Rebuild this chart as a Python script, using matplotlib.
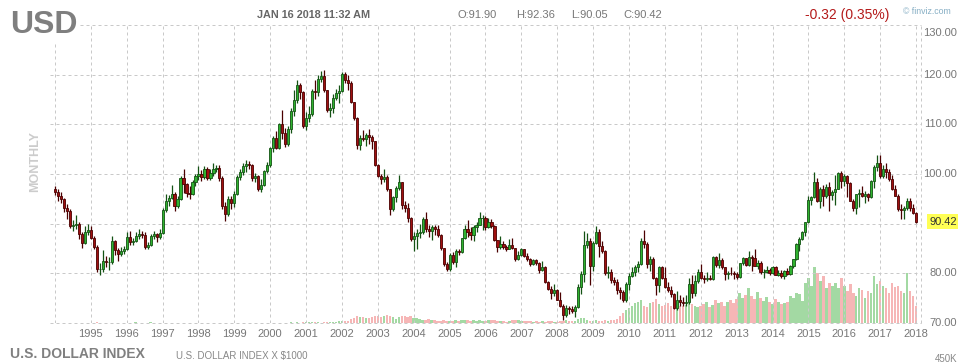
import numpy as np
import matplotlib as mpl
mpl.use("Agg")
import matplotlib.pyplot as plt
import matplotlib.transforms as mtrans

plt.rcParams["font.family"] = ["Liberation Sans", "DejaVu Sans"]

# ---- monthly OHLC, Jan 1994 .. Jan 2018 (one row per year) ----
opens = [
    97.0, 96.3, 95.6, 94.9, 93.1, 92.6, 89.6, 89.8, 89.9, 88.0, 86.2, 88.3,
    88.7, 87.2, 85.3, 80.8, 80.9, 82.5, 82.2, 82.2, 86.5, 84.6, 83.8, 84.4,
    84.8, 87.3, 86.4, 86.6, 87.6, 88.0, 87.8, 85.4, 85.8, 87.6, 87.9, 87.4,
    88.2, 92.8, 94.5, 95.2, 96.0, 93.5, 95.0, 99.2, 97.9, 96.2, 96.0, 98.3,
    99.6, 100.0, 99.4, 101.0, 99.2, 100.2, 101.1, 101.3, 99.2, 93.6, 92.0, 95.0,
    94.2, 96.0, 99.4, 100.4, 101.6, 102.0, 101.9, 99.1, 99.5, 97.0, 97.8, 100.6,
    101.9, 105.2, 107.3, 105.3, 110.0, 108.3, 106.1, 109.1, 112.7, 114.8, 117.9, 116.5,
    109.6, 111.2, 112.0, 116.7, 116.5, 119.2, 119.7, 116.9, 112.8, 113.2, 115.3, 116.4,
    116.8, 120.2, 119.0, 118.4, 114.4, 111.3, 105.9, 107.2, 107.1, 107.8, 107.4, 106.6,
    101.9, 99.5, 98.9, 99.4, 97.0, 93.0, 95.4, 97.1, 98.3, 93.8, 93.2, 91.1,
    86.9, 87.6, 88.2, 88.4, 90.9, 89.0, 88.5, 89.4, 88.9, 87.7, 85.1, 81.8,
    80.9, 83.7, 82.2, 84.5, 84.2, 87.1, 89.0, 88.4, 87.8, 89.3, 89.8, 91.2,
    91.2, 89.4, 90.3, 89.6, 86.8, 85.3, 85.9, 85.3, 85.0, 85.7, 85.2, 82.9,
    83.7, 84.8, 83.4, 82.9, 81.8, 82.6, 82.0, 80.7, 81.2, 78.2, 76.9, 76.0,
    76.7, 74.7, 73.4, 71.7, 73.0, 72.8, 72.5, 73.3, 77.2, 79.8, 85.7, 86.6,
    81.4, 86.1, 88.3, 85.6, 84.5, 80.0, 80.2, 78.6, 78.2, 76.7, 76.3, 74.7,
    77.9, 79.5, 80.3, 81.2, 81.9, 86.6, 86.0, 81.8, 82.9, 79.0, 77.6, 81.2,
    79.0, 77.3, 76.7, 75.9, 73.0, 74.6, 74.3, 74.0, 74.2, 77.9, 76.0, 78.4,
    80.2, 79.1, 78.9, 79.0, 78.9, 83.2, 81.6, 82.6, 81.2, 79.9, 80.1, 80.0,
    79.8, 79.2, 82.0, 83.0, 81.6, 83.3, 83.1, 81.5, 82.1, 80.2, 80.2, 80.7,
    80.0, 81.3, 79.7, 80.1, 79.5, 80.4, 79.8, 81.5, 82.8, 86.0, 87.0, 88.4,
    90.3, 94.8, 95.3, 98.4, 94.6, 96.9, 95.5, 97.3, 95.8, 96.4, 97.0, 100.2,
    98.6, 99.6, 98.2, 94.6, 93.1, 95.9, 96.1, 95.5, 96.0, 95.4, 98.5, 101.5,
    102.2, 99.5, 101.1, 100.4, 99.0, 97.0, 95.6, 92.9, 92.7, 93.1, 94.6, 93.1,
    92.1,
]
highs = [
    97.6, 96.9, 96.3, 95.2, 93.9, 93.0, 90.8, 91.8, 90.4, 88.3, 89.6, 89.9,
    89.6, 87.6, 85.8, 82.0, 84.6, 83.4, 83.3, 87.6, 86.8, 85.2, 85.3, 85.6,
    88.3, 88.5, 87.2, 88.3, 88.9, 88.6, 88.3, 86.4, 88.0, 88.6, 88.2, 88.9,
    93.2, 95.9, 95.8, 97.8, 96.4, 95.5, 99.6, 101.1, 98.2, 97.6, 98.7, 100.0,
    101.6, 100.9, 101.6, 101.4, 101.0, 102.2, 101.8, 101.9, 99.6, 94.4, 95.6, 95.5,
    96.6, 99.8, 101.0, 102.3, 102.8, 102.6, 102.1, 100.3, 99.8, 98.9, 100.9, 102.4,
    105.5, 107.7, 108.6, 110.3, 112.8, 109.2, 109.6, 113.2, 116.9, 118.9, 118.4, 116.8,
    112.5, 113.7, 117.2, 118.9, 119.9, 120.8, 121.0, 117.0, 114.3, 116.1, 117.2, 117.9,
    120.5, 120.5, 119.9, 118.7, 114.5, 111.4, 107.9, 108.8, 108.2, 109.1, 107.9, 106.7,
    102.1, 100.0, 101.1, 99.7, 97.0, 95.6, 97.6, 99.8, 98.4, 94.5, 94.1, 91.4,
    88.3, 89.0, 89.9, 91.4, 92.3, 89.8, 89.8, 89.8, 89.7, 88.0, 85.2, 82.3,
    84.1, 84.3, 85.0, 84.9, 87.2, 89.7, 90.8, 89.3, 89.8, 90.3, 92.3, 91.8,
    91.5, 91.1, 90.9, 89.8, 86.8, 87.5, 86.6, 85.7, 86.9, 87.1, 85.2, 84.4,
    85.2, 84.9, 84.0, 83.1, 82.9, 82.9, 82.3, 82.5, 81.4, 78.4, 77.4, 77.9,
    76.9, 76.2, 73.9, 73.7, 73.5, 73.4, 73.7, 77.8, 80.4, 88.5, 88.2, 87.1,
    86.5, 89.6, 89.0, 86.6, 84.6, 81.4, 80.8, 79.3, 78.9, 77.3, 76.6, 78.3,
    80.0, 81.3, 81.6, 82.5, 87.2, 88.7, 86.4, 83.5, 83.2, 79.2, 81.4, 81.4,
    81.2, 78.3, 77.5, 76.0, 76.4, 75.7, 75.2, 75.6, 79.0, 79.6, 79.7, 80.8,
    81.8, 79.6, 80.3, 79.7, 83.5, 83.4, 84.1, 83.0, 81.3, 80.4, 81.2, 80.4,
    80.2, 82.1, 83.2, 83.1, 84.5, 83.6, 84.8, 82.6, 82.4, 80.9, 81.5, 81.0,
    81.5, 81.4, 80.7, 80.6, 80.7, 81.0, 81.6, 82.9, 86.2, 87.3, 88.6, 90.4,
    95.5, 95.6, 100.4, 99.2, 97.3, 97.8, 98.0, 98.3, 96.7, 99.7, 100.5, 100.6,
    99.9, 99.8, 98.4, 95.0, 96.0, 97.0, 97.6, 96.5, 96.1, 98.7, 101.8, 103.8,
    103.8, 101.8, 102.3, 101.0, 99.7, 97.8, 96.0, 93.9, 93.5, 95.2, 95.1, 93.9,
    92.36,
]
lows = [
    95.8, 94.5, 94.1, 92.3, 91.0, 89.2, 88.6, 89.0, 86.9, 85.2, 85.9, 87.8,
    86.9, 84.9, 80.2, 79.7, 80.3, 81.2, 80.7, 81.9, 83.6, 82.4, 83.4, 83.8,
    84.6, 85.8, 85.7, 86.3, 87.0, 87.2, 85.0, 84.8, 85.6, 87.0, 86.3, 87.0,
    88.0, 92.4, 93.6, 95.0, 92.6, 93.1, 94.8, 96.2, 95.4, 95.0, 95.8, 97.6,
    98.8, 98.6, 99.0, 98.8, 98.7, 99.6, 100.5, 98.6, 93.0, 90.6, 91.6, 93.0,
    93.4, 95.8, 98.7, 99.8, 100.4, 101.0, 98.5, 98.4, 96.5, 96.3, 97.5, 100.2,
    101.4, 104.5, 105.0, 105.1, 107.0, 105.4, 105.6, 108.2, 111.6, 114.3, 115.2, 109.3,
    108.8, 110.5, 111.6, 115.2, 115.8, 118.5, 116.5, 112.4, 111.4, 112.3, 114.8, 114.2,
    116.5, 118.4, 117.0, 114.2, 110.9, 105.0, 104.9, 106.6, 105.7, 106.1, 105.0, 101.6,
    99.3, 98.0, 98.3, 96.5, 91.8, 92.5, 94.3, 96.8, 93.0, 92.4, 90.4, 86.6,
    84.4, 84.9, 87.2, 88.0, 88.3, 87.3, 86.8, 87.7, 87.4, 84.7, 81.5, 80.4,
    80.4, 81.9, 81.2, 83.6, 84.1, 87.0, 87.3, 86.7, 86.5, 88.4, 89.7, 88.8,
    88.8, 89.1, 89.1, 86.6, 84.2, 84.9, 84.8, 84.4, 84.9, 84.9, 82.4, 82.7,
    83.5, 83.3, 82.4, 81.5, 81.6, 81.7, 80.1, 80.4, 78.0, 76.6, 74.8, 75.4,
    74.6, 73.3, 70.7, 71.3, 71.9, 72.1, 71.3, 73.0, 75.8, 78.3, 85.2, 77.7,
    80.4, 85.9, 83.2, 84.1, 79.6, 79.0, 78.1, 77.6, 75.8, 74.9, 74.2, 74.3,
    76.6, 79.2, 79.5, 80.2, 81.7, 85.1, 81.1, 80.4, 78.9, 75.7, 76.3, 78.9,
    77.0, 76.3, 75.3, 72.9, 72.7, 73.5, 73.4, 73.4, 73.8, 75.0, 75.5, 78.1,
    78.8, 78.0, 78.4, 78.6, 78.7, 81.2, 81.1, 80.9, 78.6, 78.9, 79.6, 78.9,
    78.9, 79.0, 81.6, 81.4, 81.5, 80.5, 81.4, 80.8, 79.9, 79.1, 80.1, 79.6,
    79.9, 79.6, 79.4, 79.1, 78.9, 79.7, 79.7, 81.1, 82.6, 84.5, 86.8, 87.6,
    90.1, 93.7, 95.1, 94.4, 93.1, 93.5, 95.2, 92.6, 94.7, 93.8, 96.9, 97.2,
    97.6, 95.3, 94.5, 92.6, 91.9, 93.4, 95.3, 94.1, 94.5, 95.2, 97.1, 100.7,
    99.2, 99.2, 99.2, 98.5, 96.8, 95.5, 92.5, 91.0, 91.0, 92.7, 92.5, 91.9,
    90.05,
]
closes = [
    96.3, 95.6, 94.9, 93.1, 92.6, 89.6, 89.8, 89.9, 88.0, 86.2, 88.3, 88.7,
    87.2, 85.3, 80.8, 80.9, 82.5, 82.2, 82.2, 86.5, 84.6, 83.8, 84.4, 84.8,
    87.3, 86.4, 86.6, 87.6, 88.0, 87.8, 85.4, 85.8, 87.6, 87.9, 87.4, 88.2,
    92.8, 94.5, 95.2, 96.0, 93.5, 95.0, 99.2, 97.9, 96.2, 96.0, 98.3, 99.6,
    100.0, 99.4, 101.0, 99.2, 100.2, 101.1, 101.3, 99.2, 93.6, 92.0, 95.0, 94.2,
    96.0, 99.4, 100.4, 101.6, 102.0, 101.9, 99.1, 99.5, 97.0, 97.8, 100.6, 101.9,
    105.2, 107.3, 105.3, 110.0, 108.3, 106.1, 109.1, 112.7, 114.8, 117.9, 116.5, 109.6,
    111.2, 112.0, 116.7, 116.5, 119.2, 119.7, 116.9, 112.8, 113.2, 115.3, 116.4, 116.8,
    120.2, 119.0, 118.4, 114.4, 111.3, 105.9, 107.2, 107.1, 107.8, 107.4, 106.6, 101.9,
    99.5, 98.9, 99.4, 97.0, 93.0, 95.4, 97.1, 98.3, 93.8, 93.2, 91.1, 86.9,
    87.6, 88.2, 88.4, 90.9, 89.0, 88.5, 89.4, 88.9, 87.7, 85.1, 81.8, 80.9,
    83.7, 82.2, 84.5, 84.2, 87.1, 89.0, 88.4, 87.8, 89.3, 89.8, 91.2, 91.2,
    89.4, 90.3, 89.6, 86.8, 85.3, 85.9, 85.3, 85.0, 85.7, 85.2, 82.9, 83.7,
    84.8, 83.4, 82.9, 81.8, 82.6, 82.0, 80.7, 81.2, 78.2, 76.9, 76.0, 76.7,
    74.7, 73.4, 71.7, 73.0, 72.8, 72.5, 73.3, 77.2, 79.8, 85.7, 86.6, 81.4,
    86.1, 88.3, 85.6, 84.5, 80.0, 80.2, 78.6, 78.2, 76.7, 76.3, 74.7, 77.9,
    79.5, 80.3, 81.2, 81.9, 86.6, 86.0, 81.8, 82.9, 79.0, 77.6, 81.2, 79.0,
    77.3, 76.7, 75.9, 73.0, 74.6, 74.3, 74.0, 74.2, 77.9, 76.0, 78.4, 80.2,
    79.1, 78.9, 79.0, 78.9, 83.2, 81.6, 82.6, 81.2, 79.9, 80.1, 80.0, 79.8,
    79.2, 82.0, 83.0, 81.6, 83.3, 83.1, 81.5, 82.1, 80.2, 80.2, 80.7, 80.0,
    81.3, 79.7, 80.1, 79.5, 80.4, 79.8, 81.5, 82.8, 86.0, 87.0, 88.4, 90.3,
    94.8, 95.3, 98.4, 94.6, 96.9, 95.5, 97.3, 95.8, 96.4, 97.0, 100.2, 98.6,
    99.6, 98.2, 94.6, 93.1, 95.9, 96.1, 95.5, 96.0, 95.4, 98.5, 101.5, 102.2,
    99.5, 101.1, 100.4, 99.0, 97.0, 95.6, 92.9, 92.7, 93.1, 94.6, 93.1, 92.1,
    90.42,
]
# monthly volume, thousands of contracts
volumes = [
    2, 2, 1, 1, 2, 1, 1, 1, 1, 1, 2, 1,
    1, 2, 3, 2, 1, 1, 2, 2, 1, 1, 1, 1,
    2, 1, 1, 4, 2, 1, 1, 2, 3, 1, 1, 1,
    2, 1, 1, 2, 1, 2, 1, 2, 1, 1, 2, 1,
    1, 2, 1, 2, 1, 1, 2, 1, 2, 2, 1, 2,
    1, 2, 2, 1, 1, 2, 1, 1, 2, 1, 1, 2,
    2, 1, 2, 1, 2, 1, 2, 3, 2, 3, 2, 4,
    3, 4, 6, 4, 3, 2, 6, 4, 3, 5, 3, 8,
    10, 8, 10, 16, 20, 28, 26, 24, 20, 22, 25, 30,
    28, 24, 30, 32, 30, 26, 18, 24, 30, 28, 26, 28,
    22, 20, 18, 14, 12, 16, 14, 12, 10, 10, 12, 10,
    8, 10, 12, 10, 12, 14, 12, 10, 12, 10, 12, 10,
    10, 12, 12, 14, 10, 8, 8, 6, 10, 12, 14, 12,
    8, 8, 10, 8, 6, 8, 6, 8, 6, 10, 8, 6,
    6, 8, 10, 12, 10, 8, 8, 16, 20, 22, 14, 10,
    10, 12, 8, 10, 14, 10, 12, 14, 16, 30, 40, 52,
    60, 70, 80, 86, 92, 70, 66, 80, 84, 96, 76, 68,
    72, 80, 70, 62, 60, 70, 68, 74, 80, 78, 70, 64,
    70, 76, 84, 64, 72, 94, 80, 86, 70, 84, 92, 80,
    96, 120, 100, 112, 140, 110, 96, 124, 100, 90, 106, 84,
    78, 96, 84, 76, 80, 84, 110, 100, 120, 116, 90, 160,
    180, 150, 226, 200, 170, 190, 140, 160, 150, 160, 140, 180,
    150, 130, 156, 120, 110, 140, 134, 100, 130, 120, 190, 156,
    170, 150, 140, 120, 160, 146, 150, 130, 120, 200, 130, 110,
    70,
]
years = list(range(1994, 2019))
price_levels = [70, 80, 90, 100, 110, 120, 130]
last_price = 90.42

W, H = 958, 364
fig = plt.figure(figsize=(W / 100, H / 100), dpi=100)
fig.patch.set_facecolor("white")
rect = [50 / W, 1 - 323 / H, 871 / W, 298 / H]

o = np.array(opens); h = np.array(highs); l = np.array(lows); c = np.array(closes)
idx = np.arange(len(c))
up = c >= o
xlim = (-5 / 3, len(c) - 1 + 5 / 3)

# volume overlay (behind)
vx = fig.add_axes(rect)
vx.set_xlim(*xlim); vx.set_ylim(0, 1200); vx.axis("off")
vx.bar(idx, volumes, width=0.85, color=np.where(up, "#a3d9a3", "#f6b6b6"), linewidth=0)

ax = fig.add_axes(rect)
ax.patch.set_alpha(0)
ax.set_xlim(*xlim); ax.set_ylim(70, 130)
for s in ax.spines.values():
    s.set_visible(False)
grid_kw = dict(color="#c9c9c9", lw=0.72, ls=(0, (3, 3)), zorder=0)
for lv in price_levels:
    ax.axhline(lv, clip_on=False, **grid_kw)
year_pos = [12 * (y - 1994) for y in years]
for xp in year_pos:
    ax.axvline(xp, **grid_kw)
ax.axvline(xlim[1], clip_on=False, **grid_kw)
ax.set_xticks([]); ax.set_yticks([])

# candles
edge = np.where(up, "#145214", "#4a0000")
ax.vlines(idx, np.minimum(l, np.minimum(o, c)), np.maximum(h, np.maximum(o, c)),
          colors=edge, lw=0.9, zorder=2)
ax.bar(idx, np.abs(c - o), bottom=np.minimum(o, c), width=0.72,
       color=np.where(up, "#2fb32f", "#a01010"), edgecolor=edge, linewidth=0.6, zorder=3)

# year labels
bt = mtrans.blended_transform_factory(ax.transData, fig.transFigure)
for y, xp in zip(years, year_pos):
    if y == 1994:
        continue
    ax.text(xp, 1 - 334 / H, str(y), transform=bt, ha="center", va="center",
            fontsize=8, color="#777777")

# right price labels
rt = mtrans.blended_transform_factory(fig.transFigure, ax.transData)
for lv in price_levels:
    if lv == 90:
        continue
    off = -1.6 if lv == 130 else 0
    ax.text(957 / W, lv + off, f"{lv:.2f}", transform=rt, ha="right", va="center",
            fontsize=8, color="#777777")
ax.text(929 / W, last_price, f"{last_price:.2f}", transform=rt, ha="left", va="center",
        fontsize=8, color="#333333",
        bbox=dict(boxstyle="square,pad=0.2", fc="#ffff55", ec="none"))


def px(x, y):
    return x / W, 1 - y / H


fig.text(*px(10, 33), "USD", fontsize=23, fontweight="bold", color="#7f7f7f",
         va="baseline", ha="left",
         bbox=dict(boxstyle="square,pad=0.05", fc="white", ec="none"))
fig.text(*px(257, 15), "JAN 16 2018 11:32 AM", fontsize=7.8, fontweight="bold",
         color="#666666", va="center", ha="left")
for xx, s in [(458, "O:91.90"), (516, "H:92.36"), (571, "L:90.05"), (623, "C:90.42")]:
    fig.text(*px(xx, 15), s, fontsize=8, color="#777777", va="center", ha="left")
fig.text(*px(805, 15), "-0.32 (0.35%)", fontsize=10, color="#b41a1a", va="center", ha="left")
fig.text(*px(903, 12), "\u00a9 finviz.com", fontsize=6.3, color="#86aec4", va="center", ha="left")
fig.text(*px(35, 162), "MONTHLY", fontsize=9, fontweight="bold", color="#cccccc",
         rotation=90, va="center", ha="center")
fig.text(*px(10, 354), "U.S. DOLLAR INDEX", fontsize=10, fontweight="bold",
         color="#808080", va="center", ha="left")
fig.text(*px(176, 356), "U.S. DOLLAR INDEX X $1000", fontsize=7, color="#888888",
         va="center", ha="left")
fig.text(*px(957, 359), "450K", fontsize=7, color="#888888", va="center", ha="right")

fig.savefig("out.png", dpi=100, facecolor="white")
